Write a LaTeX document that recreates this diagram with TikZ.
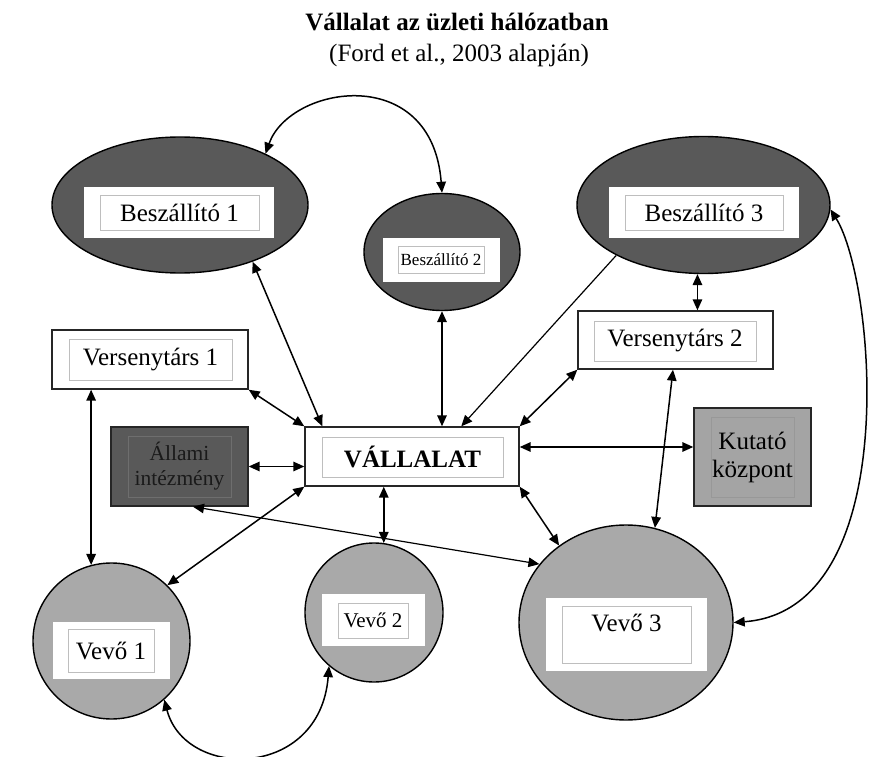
\documentclass[tikz,border=0pt]{standalone}
\usepackage{fontspec}
\setmainfont{Liberation Serif}
\usetikzlibrary{shapes.geometric,arrows.meta}
\definecolor{darkfill}{HTML}{595959}
\definecolor{lightfill}{HTML}{A9A9A9}
\definecolor{kutfill}{HTML}{A4A4A4}
\definecolor{innerline}{HTML}{BEBEBE}
\definecolor{stateline}{HTML}{6E6E6E}
\definecolor{statetext}{HTML}{1A1A1A}
\tikzset{
  oval/.style={ellipse, draw=black, line width=1.4pt, inner sep=0pt},
  whitebox/.style={rectangle, fill=white, inner sep=0pt},
  textbox/.style={rectangle, draw=innerline, line width=0.9pt, fill=white, inner sep=0pt,
    font=\fontsize{25}{28}\selectfont, align=center},
  outerbox/.style={rectangle, draw=black!85, line width=1.4pt, fill=white, inner sep=0pt},
  tip/.tip={Triangle[length=11pt,width=9.5pt]},
  conn/.style={line width=1.5pt, tip-tip},
  oneway/.style={line width=1.2pt, -tip},
}
\begin{document}
\begin{tikzpicture}[x=1pt,y=-1pt]
\useasboundingbox (0,0) rectangle (884,757);

% title
\node[anchor=base, font=\fontsize{25}{28}\selectfont\bfseries, inner sep=0pt] (title) at (457,31) {Vállalat az üzleti hálózatban};
\node[anchor=base, font=\fontsize{25}{28}\selectfont, inner sep=0pt] (subtitle) at (459,62) {(Ford et al., 2003 alapján)};

% Beszállító 1
\node[oval, fill=darkfill, minimum width=256pt, minimum height=136pt] (b1) at (180,205) {};
\node[whitebox, minimum width=190pt, minimum height=51pt] (b1w) at (179,212.5) {};
\node[textbox, minimum width=159pt, minimum height=35pt] (b1t) at (179.5,212.5) {Beszállító 1};

% Beszállító 2
\node[oval, fill=darkfill, minimum width=156pt, minimum height=117pt] (b2) at (442,252) {};
\node[whitebox, minimum width=117pt, minimum height=44pt] (b2w) at (441.5,260) {};
\node[textbox, minimum width=86pt, minimum height=27pt, font=\fontsize{17}{20}\selectfont] (b2t) at (441,259.5) {Beszállító 2};

% Beszállító 3
\node[oval, fill=darkfill, minimum width=253pt, minimum height=137pt] (b3) at (703.5,205) {};
\node[whitebox, minimum width=190pt, minimum height=51pt] (b3w) at (704,212.5) {};
\node[textbox, minimum width=158pt, minimum height=35pt] (b3t) at (704,212.5) {Beszállító 3};

% Versenytárs 1
\node[outerbox, minimum width=196pt, minimum height=59pt] (vs1) at (150,359.5) {};
\node[textbox, minimum width=163pt, minimum height=41pt] (vs1t) at (150.5,359.5) {Versenytárs 1};

% Versenytárs 2
\node[outerbox, minimum width=195pt, minimum height=58pt] (vs2) at (675.5,340) {};
\node[textbox, minimum width=162pt, minimum height=40pt] (vs2t) at (675,341) {Versenytárs 2};

% Állami intézmény
\node[outerbox, fill=darkfill, minimum width=137pt, minimum height=79pt] (a) at (179.5,466.5) {};
\node[textbox, draw=stateline, fill=darkfill, text=statetext, minimum width=103pt, minimum height=61pt,
  font=\fontsize{21.5}{25}\selectfont] (at) at (179.5,466.5) {Állami\\intézmény};

% VÁLLALAT
\node[outerbox, minimum width=214pt, minimum height=59pt] (v) at (412,456.5) {};
\node[textbox, minimum width=181pt, minimum height=40pt, font=\fontsize{25}{28}\selectfont\bfseries] (vt) at (412.5,457) {VÁLLALAT};

% Kutató központ
\node[outerbox, fill=kutfill, minimum width=117pt, minimum height=98pt] (k) at (752.5,457) {};
\node[textbox, draw=innerline!80!black, fill=kutfill, minimum width=83pt, minimum height=80pt] (kt) at (752.5,457) {Kutató\\központ};

% Vevő 1
\node[oval, fill=lightfill, minimum width=157pt, minimum height=156pt] (ve1) at (111.5,641) {};
\node[whitebox, minimum width=117pt, minimum height=57pt] (ve1w) at (111.5,650.5) {};
\node[textbox, minimum width=86pt, minimum height=43pt] (ve1t) at (111,650.5) {Vevő 1};

% Vevő 2
\node[oval, fill=lightfill, minimum width=138pt, minimum height=139pt] (ve2) at (374,612.5) {};
\node[whitebox, minimum width=103pt, minimum height=52pt] (ve2w) at (373.5,620) {};
\node[textbox, minimum width=70pt, minimum height=35pt, font=\fontsize{21}{24}\selectfont] (ve2t) at (373,620.5) {Vevő 2};

% Vevő 3
\node[oval, fill=lightfill, minimum width=214pt, minimum height=195pt] (ve3) at (626,622.5) {};
\node[whitebox, minimum width=161pt, minimum height=73pt] (ve3w) at (626.5,634.5) {};
\node[textbox, minimum width=129pt, minimum height=57pt] (ve3b) at (626.5,634.5) {};
\node[font=\fontsize{25}{28}\selectfont, inner sep=0pt] (ve3t) at (626.5,623) {Vevő 3};

% connectors
\draw[conn] (b1.31) .. controls (290,85) and (432,62) .. (b2.north);
\draw[conn] (b1.-38) -- ([xshift=18pt]v.north west);
\draw[conn] (b2.south) -- (b2.south |- v.north);
\draw[oneway] (b3.-150) -- ([xshift=157pt]v.north west);
\draw[conn] (b3.-95) -- (b3.-95 |- vs2.north);
\draw[conn] (vs1.south east) -- (v.north west);
\draw[conn] (ve1.105) -- (ve1.105 |- vs1.south);
\draw[conn] (a.east) -- (a.east -| v.west);
\draw[conn, line width=1.2pt] ([xshift=13.5pt]a.south) -- (ve3.146);
\draw[conn] (v.south west) -- (ve1.45);
\draw[conn] (ve2.82) -- (ve2.82 |- v.south);
\draw[conn] (v.south east) -- (ve3.131);
\draw[conn] ([yshift=9.5pt]v.east) -- ([yshift=9.5pt]v.east -| k.west);
\draw[conn] (v.north east) -- (vs2.south west);
\draw[conn] ([xshift=-2.5pt]vs2.south) -- (ve3.73);
\draw[conn] (b3.-2) .. controls (875,280) and (905,610) .. (ve3.0);
\draw[conn] (ve1.-48) .. controls (185,780) and (320,780) .. (ve2.-130);
\end{tikzpicture}
\end{document}
